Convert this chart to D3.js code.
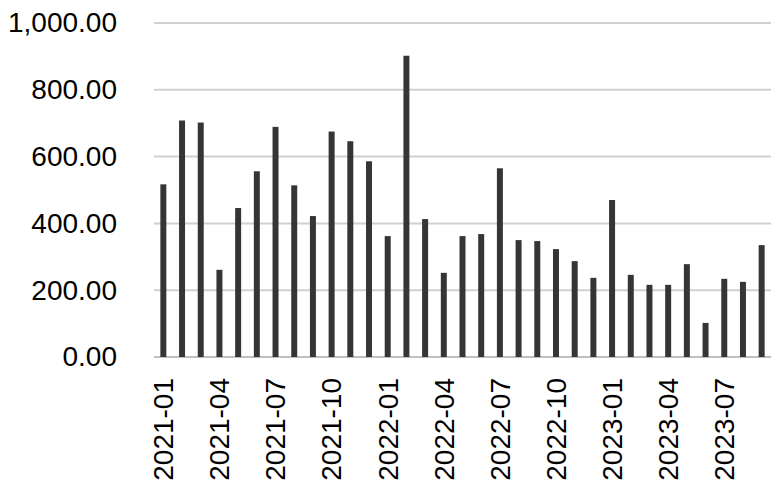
<!DOCTYPE html>
<html>
<head>
<meta charset="utf-8">
<script src="https://cdn.jsdelivr.net/npm/d3@7"></script>
<style>
  body { margin: 0; background: #fff; }
  svg { display: block; }
  .tick text { font-family: 'Liberation Sans', Arial, sans-serif; fill: #000; }
</style>
</head>
<body>
<svg id="chart"></svg>
<script>
// monthly values 2021-01 .. 2023-09
var months = [
  '2021-01', '2021-02', '2021-03', '2021-04', '2021-05', '2021-06',
  '2021-07', '2021-08', '2021-09', '2021-10', '2021-11', '2021-12',
  '2022-01', '2022-02', '2022-03', '2022-04', '2022-05', '2022-06',
  '2022-07', '2022-08', '2022-09', '2022-10', '2022-11', '2022-12',
  '2023-01', '2023-02', '2023-03', '2023-04', '2023-05', '2023-06',
  '2023-07', '2023-08', '2023-09'
];
var values = [
  517, 708, 702, 261, 446, 556,
  689, 514, 422, 675, 646, 586,
  362, 902, 413, 252, 362, 368,
  565, 350, 347, 323, 287, 237,
  470, 246, 216, 216, 278, 102,
  234, 225, 335
];
var yTicks = [0, 200, 400, 600, 800, 1000];
var xTickLabels = ['2021-01', '2021-04', '2021-07', '2021-10', '2022-01', '2022-04',
  '2022-07', '2022-10', '2023-01', '2023-04', '2023-07'];

(function () {
  'use strict';

  var W = 784, H = 497;
  var margin = {top: 23, right: 13, bottom: 140, left: 154};
  var width = W - margin.left - margin.right;
  var height = H - margin.top - margin.bottom;

  var svg = d3.select('#chart')
    .attr('width', W)
    .attr('height', H);
  var g = svg.append('g')
    .attr('transform', 'translate(' + margin.left + ',' + margin.top + ')');

  var x = d3.scaleBand()
    .domain(months)
    .range([0, width])
    .paddingInner(0.68)
    .paddingOuter(0.34);
  var y = d3.scaleLinear()
    .domain([0, 1000])
    .range([height, 0]);

  // gridlines
  g.selectAll('.grid')
    .data(yTicks)
    .enter()
    .append('line')
    .attr('class', 'grid')
    .attr('x1', 0)
    .attr('x2', width)
    .attr('y1', function (d) { return y(d); })
    .attr('y2', function (d) { return y(d); })
    .style('stroke', function (d) { return d === 0 ? '#bfbfbf' : '#d0d0d0'; })
    .style('stroke-width', 2);

  g.selectAll('.bar')
    .data(values)
    .enter()
    .append('rect')
    .attr('class', 'bar')
    .attr('x', function (d, i) { return x(months[i]); })
    .attr('y', function (d) { return y(d); })
    .attr('width', x.bandwidth())
    .attr('height', function (d) { return height - y(d); })
    .style('fill', '#353535');

  var yAxis = g.append('g')
    .call(d3.axisLeft(y)
      .tickValues(yTicks)
      .tickSize(0)
      .tickPadding(37)
      .tickFormat(d3.format(',.2f')));
  yAxis.select('.domain').remove();
  yAxis.selectAll('text').style('font-size', '28px');

  var xAxis = g.append('g')
    .attr('transform', 'translate(0,' + height + ')')
    .call(d3.axisBottom(x)
      .tickValues(xTickLabels)
      .tickSize(0));
  xAxis.select('.domain').remove();
  xAxis.selectAll('text')
    .style('font-size', '28px')
    .attr('transform', 'rotate(-90)')
    .attr('x', -21)
    .attr('y', 0)
    .attr('dy', '0.35em')
    .style('text-anchor', 'end');
}());
</script>
</body>
</html>
